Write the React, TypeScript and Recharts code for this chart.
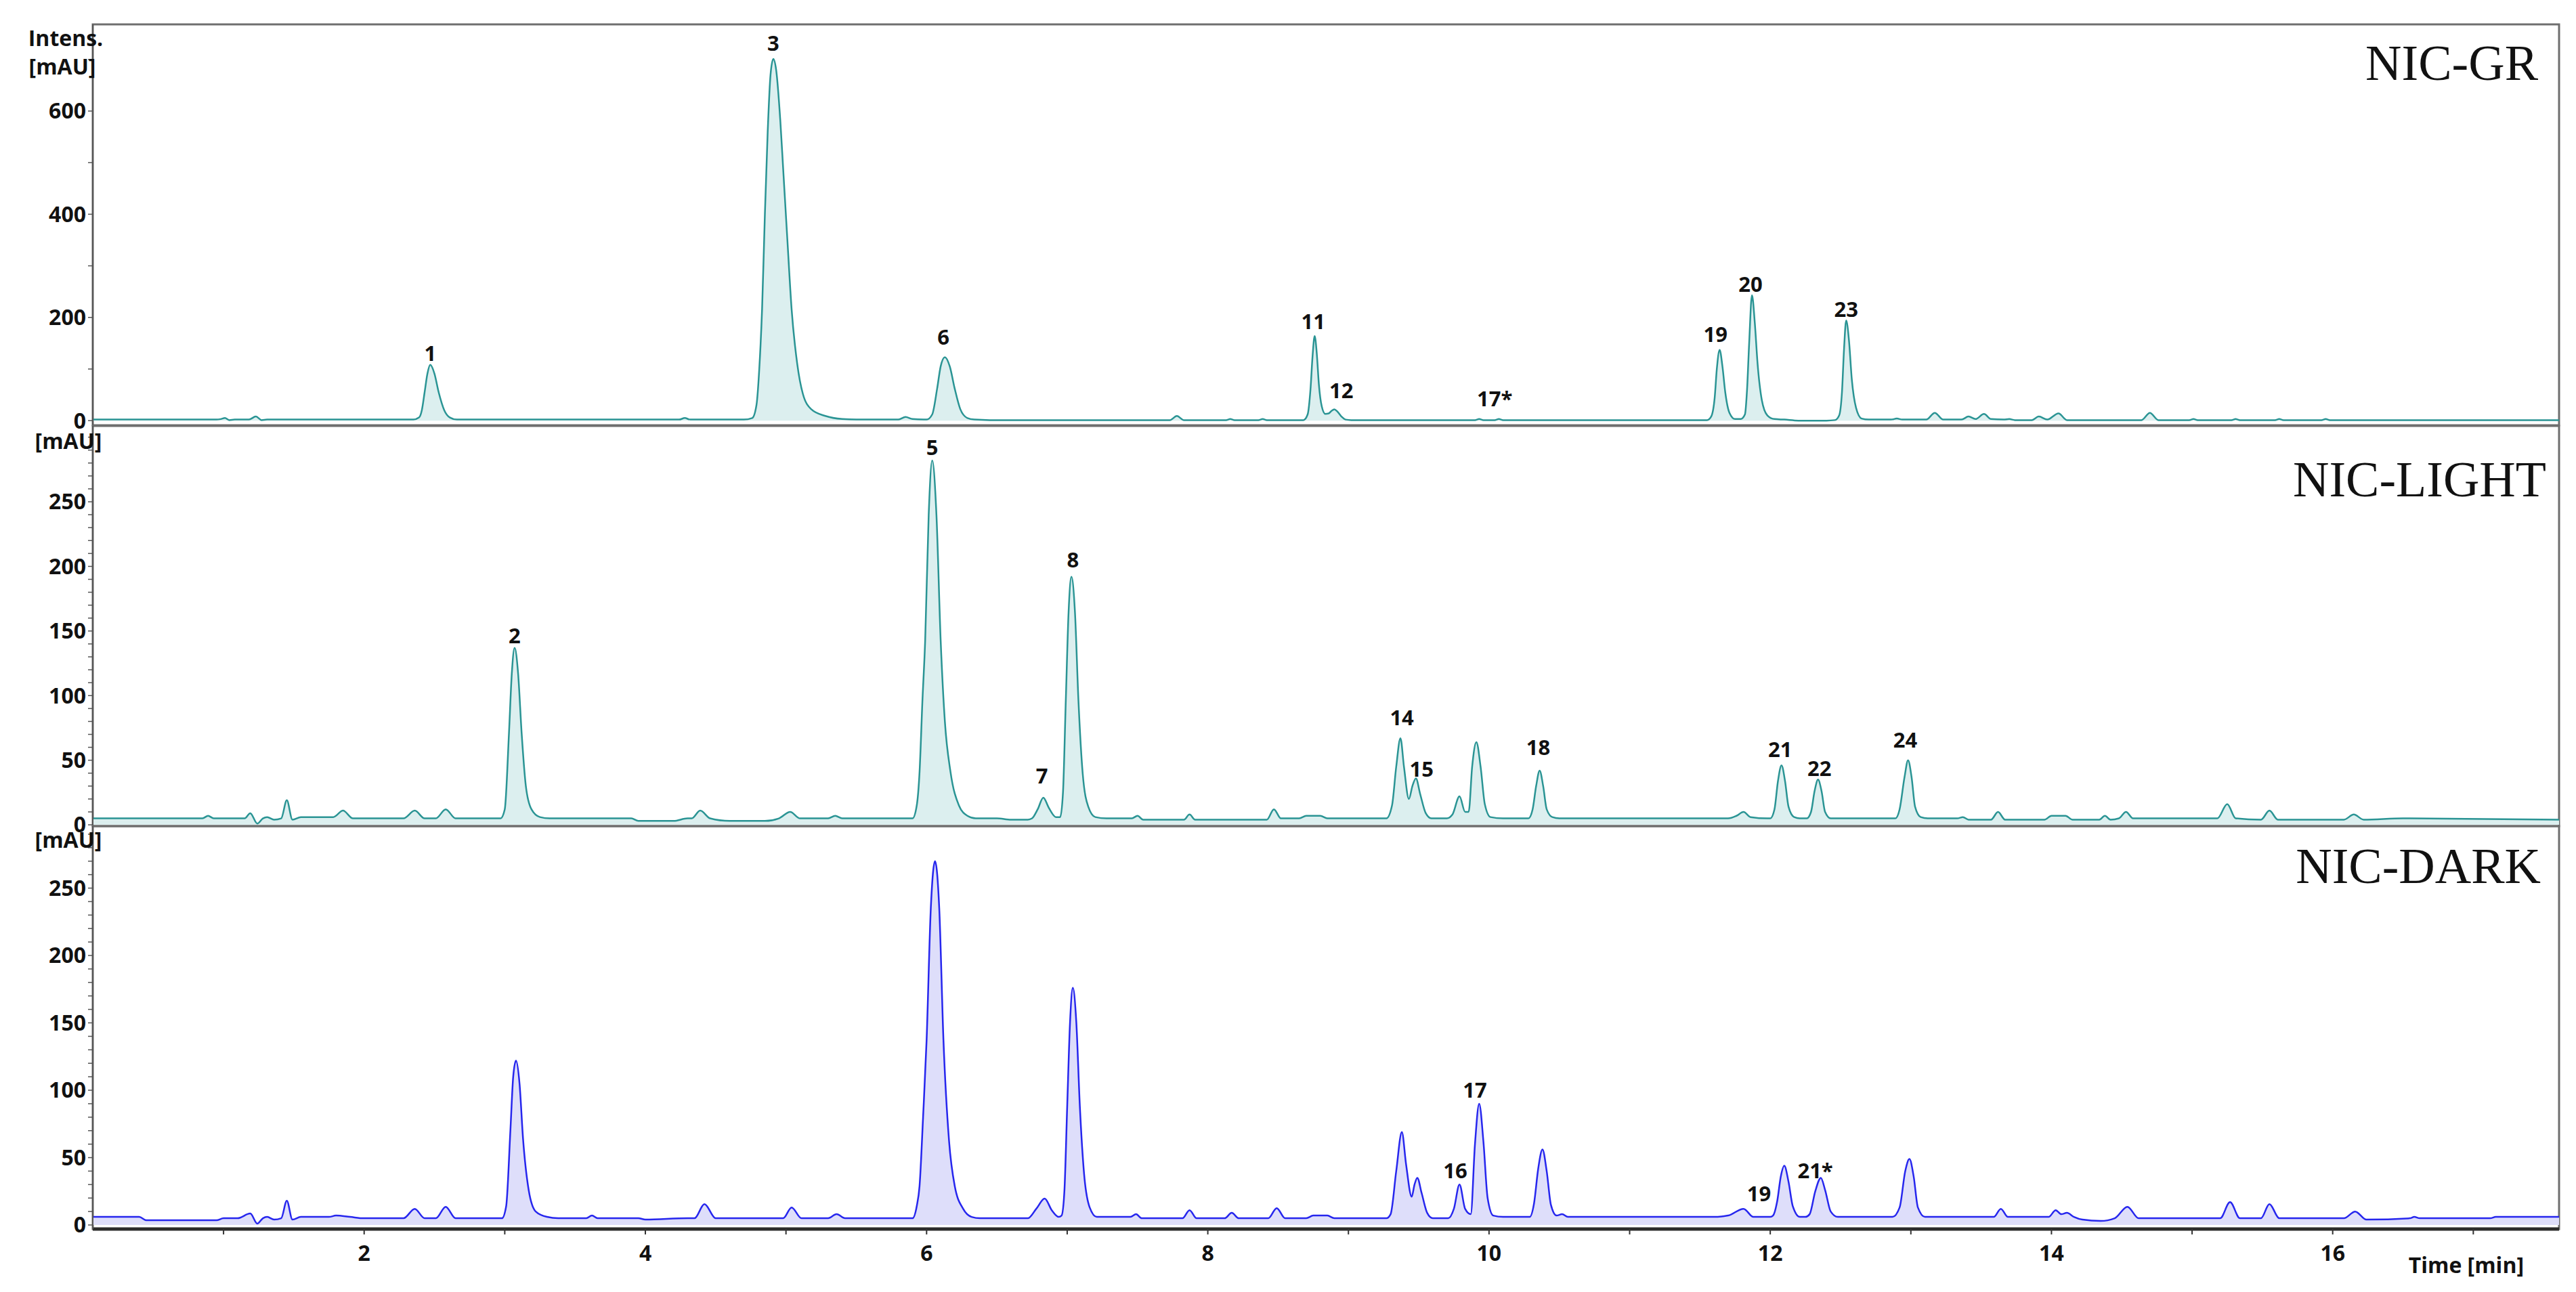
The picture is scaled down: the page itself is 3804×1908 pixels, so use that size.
import React from 'react';
import { ComposedChart, Area, XAxis, YAxis, ReferenceArea, ReferenceDot } from 'recharts';

const W = 3804;
const H = 1908;
const FONT = "'Open Sans', 'DejaVu Sans', sans-serif";
const SERIF = "'Liberation Serif', 'DejaVu Serif', serif";

const timeDomain: [number, number] = [0.07, 17.61];
const xTicks = [1, 2, 3, 4, 5, 6, 7, 8, 9, 10, 11, 12, 13, 14, 15, 16, 17];
const xLabelTicks = [2, 4, 6, 8, 10, 12, 14, 16];

// NIC-GR chromatogram [time min, intensity mAU]
const grPoints: [number, number][] = [
  [0.07, 2], [0.95, 2], [0.98, 3], [1.01, 5], [1.04, 1], [1.08, 2], [1.18, 2], [1.23, 8], [1.27, 1], [1.31, 2],
  [2.35, 2], [2.39, 6], [2.41, 20], [2.43, 55], [2.45, 91], [2.47, 108], [2.5, 91], [2.53, 55], [2.57, 20], [2.61, 6], [2.66, 2],
  [4.24, 2], [4.28, 5], [4.32, 2],
  [4.7, 2], [4.76, 5], [4.79, 30], [4.81, 100], [4.83, 216], [4.85, 400], [4.87, 560], [4.89, 670], [4.91, 701], [4.93, 680], [4.96, 580], [4.98, 488], [5.01, 350], [5.04, 216], [5.08, 110], [5.12, 52], [5.18, 22], [5.28, 9], [5.4, 3], [5.5, 2],
  [5.8, 2], [5.85, 7], [5.9, 3], [5.98, 2],
  [6.0, 2], [6.04, 12], [6.075, 62], [6.1, 105], [6.13, 123], [6.165, 105], [6.2, 62], [6.24, 22], [6.29, 5], [6.34, 2],
  [6.45, 1], [7.73, 1], [7.78, 9], [7.83, 1], [8.13, 1], [8.16, 3], [8.19, 1], [8.36, 1], [8.39, 3], [8.42, 1],
  [8.68, 1], [8.71, 12], [8.73, 60], [8.745, 125], [8.76, 164], [8.775, 130], [8.79, 70], [8.81, 28], [8.835, 13], [8.86, 14], [8.88, 19], [8.9, 22], [8.92, 18], [8.95, 8], [8.98, 2], [9.02, 1],
  [9.9, 1], [9.93, 3], [9.96, 1], [10.04, 1], [10.07, 3], [10.1, 1],
  [11.55, 1], [11.58, 8], [11.605, 45], [11.62, 100], [11.64, 137], [11.66, 105], [11.68, 55], [11.71, 15], [11.75, 3],
  [11.79, 3], [11.82, 12], [11.835, 60], [11.85, 150], [11.87, 243], [11.89, 190], [11.91, 110], [11.94, 40], [11.98, 10], [12.03, 3], [12.1, 2], [12.2, 0], [12.4, 0],
  [12.46, 1], [12.49, 10], [12.51, 55], [12.525, 140], [12.54, 194], [12.56, 155], [12.58, 80], [12.61, 25], [12.65, 4], [12.7, 2],
  [12.86, 2], [12.9, 4], [12.94, 2], [13.11, 2], [13.17, 15], [13.23, 2], [13.36, 2], [13.41, 8], [13.46, 3], [13.52, 13], [13.57, 3],
  [13.66, 2], [13.7, 3], [13.74, 1], [13.86, 1], [13.91, 8], [13.97, 2], [14.05, 14], [14.11, 1], [14.3, 1], [14.64, 1], [14.7, 15], [14.76, 1],
  [14.98, 1], [15.01, 3], [15.04, 1], [15.28, 1], [15.31, 3], [15.34, 1], [15.59, 1], [15.62, 3], [15.65, 1], [15.92, 1], [15.95, 3], [15.98, 1], [16.2, 1], [17.61, 1],
];

// NIC-LIGHT chromatogram
const lightPoints: [number, number][] = [
  [0.07, 5], [0.85, 5], [0.89, 7], [0.93, 5], [1.15, 5], [1.19, 9], [1.24, 1], [1.28, 5], [1.31, 6], [1.36, 4], [1.41, 5], [1.45, 19], [1.49, 4], [1.55, 6],
  [1.78, 6], [1.85, 11], [1.92, 5], [2.28, 5], [2.36, 11], [2.43, 5], [2.51, 5], [2.58, 12], [2.65, 5], [2.95, 5],
  [2.97, 5], [3.0, 12], [3.03, 71], [3.05, 117], [3.07, 137], [3.095, 117], [3.12, 71], [3.15, 30], [3.19, 12], [3.25, 6], [3.32, 5],
  [3.9, 5], [3.95, 3], [4.2, 3], [4.3, 5], [4.33, 5], [4.39, 11], [4.46, 5], [4.6, 3], [4.85, 3], [4.95, 5], [5.03, 10], [5.1, 5], [5.3, 5], [5.35, 7], [5.4, 5], [5.88, 5],
  [5.9, 5], [5.93, 15], [5.95, 41], [5.97, 95], [5.99, 143], [6.015, 240], [6.04, 282], [6.07, 240], [6.1, 143], [6.13, 80], [6.17, 41], [6.23, 15], [6.29, 7], [6.35, 5],
  [6.5, 5], [6.6, 4], [6.72, 4], [6.75, 5], [6.79, 12], [6.83, 21], [6.87, 13], [6.92, 6],
  [6.95, 6], [6.97, 25], [6.99, 96], [7.01, 165], [7.03, 192], [7.055, 165], [7.08, 96], [7.11, 40], [7.15, 14], [7.2, 6], [7.28, 5],
  [7.46, 5], [7.5, 7], [7.54, 4], [7.83, 4], [7.87, 8], [7.91, 4], [8.42, 4], [8.47, 12], [8.52, 5], [8.65, 5], [8.7, 7], [8.8, 7], [8.85, 5], [9.27, 5],
  [9.31, 15], [9.34, 45], [9.37, 67], [9.395, 45], [9.43, 20], [9.455, 30], [9.48, 36], [9.51, 24], [9.55, 9], [9.59, 5],
  [9.7, 5], [9.74, 8], [9.79, 22], [9.83, 10], [9.855, 10], [9.88, 45], [9.91, 64], [9.94, 45], [9.97, 16], [10.01, 6], [10.1, 5],
  [10.28, 5], [10.31, 12], [10.335, 30], [10.36, 42], [10.385, 30], [10.41, 12], [10.45, 6], [10.5, 5],
  [11.0, 5], [11.7, 5], [11.76, 7], [11.81, 10], [11.86, 6], [11.98, 5],
  [12.0, 5], [12.03, 12], [12.055, 34], [12.08, 46], [12.105, 34], [12.13, 14], [12.17, 6], [12.21, 5],
  [12.26, 5], [12.29, 10], [12.315, 26], [12.34, 35], [12.365, 26], [12.39, 10], [12.43, 5],
  [12.89, 5], [12.92, 12], [12.955, 37], [12.98, 50], [13.005, 37], [13.03, 14], [13.07, 6], [13.12, 5],
  [13.33, 5], [13.37, 6], [13.41, 4], [13.57, 4], [13.62, 10], [13.67, 4], [13.95, 4], [14.0, 7], [14.1, 7], [14.15, 4], [14.34, 4], [14.38, 7], [14.42, 4],
  [14.48, 5], [14.53, 10], [14.58, 5], [15.18, 5], [15.25, 16], [15.31, 5], [15.49, 4], [15.55, 11], [15.61, 4], [15.75, 4],
  [16.08, 4], [16.15, 8], [16.22, 4], [16.5, 5], [16.55, 5], [17.61, 4],
];

// NIC-DARK chromatogram
const darkPoints: [number, number][] = [
  [0.07, 6], [0.4, 6], [0.45, 3.5], [0.95, 3.5], [1.0, 5], [1.1, 5], [1.19, 8.5], [1.24, 1], [1.28, 5], [1.31, 6], [1.36, 4], [1.41, 5], [1.45, 18], [1.49, 4], [1.55, 6],
  [1.75, 6], [1.8, 7], [1.9, 6], [2.0, 5], [2.28, 5], [2.36, 12], [2.43, 5], [2.51, 5], [2.58, 13.5], [2.65, 5], [2.96, 5],
  [2.98, 5], [3.01, 14], [3.04, 70], [3.06, 110], [3.08, 122], [3.105, 105], [3.13, 64], [3.17, 26], [3.22, 10], [3.3, 6], [3.38, 5],
  [3.58, 5], [3.62, 7], [3.66, 5], [3.95, 5], [4.0, 4], [4.3, 5], [4.35, 5], [4.42, 15.5], [4.5, 5], [4.98, 5], [5.04, 13], [5.11, 5], [5.3, 5], [5.36, 8], [5.42, 5], [5.88, 5],
  [5.9, 5], [5.93, 14], [5.95, 29], [5.975, 80], [6.0, 137], [6.03, 235], [6.06, 270], [6.09, 235], [6.12, 137], [6.16, 62], [6.2, 29], [6.26, 12], [6.32, 6], [6.38, 5],
  [6.72, 5], [6.78, 12], [6.84, 19.6], [6.89, 11], [6.94, 6],
  [6.96, 7], [6.98, 25], [7.0, 88], [7.02, 150], [7.04, 176], [7.065, 150], [7.09, 88], [7.12, 38], [7.16, 13], [7.21, 6], [7.3, 6],
  [7.45, 6], [7.49, 8], [7.53, 5], [7.82, 5], [7.87, 11], [7.92, 5], [8.12, 5], [8.17, 9], [8.22, 5], [8.43, 5], [8.49, 12.5], [8.55, 5], [8.7, 5], [8.75, 7], [8.85, 7], [8.9, 5], [9.27, 5],
  [9.3, 8], [9.34, 40], [9.38, 69], [9.41, 45], [9.45, 21], [9.47, 30], [9.49, 35], [9.52, 24], [9.56, 9], [9.6, 5],
  [9.71, 5], [9.75, 12], [9.79, 30], [9.83, 12], [9.87, 8], [9.9, 60], [9.93, 90], [9.96, 62], [9.99, 20], [10.03, 7], [10.1, 6],
  [10.29, 6], [10.32, 16], [10.35, 42], [10.38, 56], [10.41, 40], [10.44, 15], [10.48, 7], [10.52, 8], [10.56, 6],
  [11.0, 6], [11.6, 6], [11.7, 7], [11.81, 12], [11.88, 6], [12.0, 6],
  [12.02, 7], [12.05, 18], [12.075, 36], [12.1, 44], [12.13, 32], [12.16, 14], [12.21, 6], [12.25, 6],
  [12.28, 8], [12.32, 25], [12.36, 35], [12.39, 26], [12.43, 10], [12.48, 6],
  [12.87, 6], [12.92, 13], [12.96, 40], [12.99, 49], [13.02, 36], [13.05, 13], [13.1, 6],
  [13.59, 6], [13.64, 12], [13.69, 6], [13.98, 6], [14.03, 11], [14.07, 8], [14.11, 9], [14.16, 6], [14.22, 4], [14.35, 3], [14.45, 5], [14.54, 13.5], [14.62, 5],
  [14.8, 5], [15.2, 5], [15.27, 17], [15.34, 5], [15.49, 5], [15.55, 15.5], [15.62, 5], [16.0, 5], [16.08, 5], [16.16, 10], [16.24, 4],
  [16.55, 5], [16.58, 6], [16.62, 5], [17.12, 5], [17.16, 6], [17.2, 6], [17.61, 6],
];

// peak labels [time, intensity at label centre, text]
const grLabels: [number, number, string][] = [
  [2.47, 130, '1'], [4.91, 731, '3'], [6.12, 161, '6'], [8.75, 192, '11'], [8.95, 58, '12'],
  [10.04, 42, '17*'], [11.61, 167, '19'], [11.86, 264, '20'], [12.54, 216, '23'],
];
const lightLabels: [number, number, string][] = [
  [3.07, 146, '2'], [6.04, 292, '5'], [6.82, 38, '7'], [7.04, 205, '8'], [9.38, 83, '14'],
  [9.52, 43, '15'], [10.35, 60, '18'], [12.07, 58, '21'], [12.35, 43.5, '22'], [12.96, 65.5, '24'],
];
const darkLabels: [number, number, string][] = [
  [9.76, 40, '16'], [9.9, 100, '17'], [11.92, 23, '19'], [12.32, 40, '21*'],
];

const grYTicks = [0, 100, 200, 300, 400, 500, 600, 700];
const grYLabels = [0, 200, 400, 600];
const lightYTicks = [0, 10, 20, 30, 40, 50, 60, 70, 80, 90, 100, 110, 120, 130, 140, 150, 160, 170, 180, 190, 200, 210, 220, 230, 240, 250, 260, 270, 280, 290, 300];
const darkYTicks = [0, 10, 20, 30, 40, 50, 60, 70, 80, 90, 100, 110, 120, 130, 140, 150, 160, 170, 180, 190, 200, 210, 220, 230, 240, 250, 260, 270, 280, 290];
const mauYLabels = [0, 50, 100, 150, 200, 250];

const XTick = (props: any) => {
  const { x, y, payload } = props;
  if (!xLabelTicks.includes(payload.value)) return <g />;
  return (
    <text x={x} y={y} dy="0.71em" textAnchor="middle" fontFamily={FONT} fontWeight={700} fontSize={32} fill="#111">
      {payload.value}
    </text>
  );
};

const makeYTick = (labels: number[]) => (props: any) => {
  const { x, y, payload } = props;
  if (!labels.includes(payload.value)) return <g />;
  return (
    <text x={x} y={y} dy="0.355em" textAnchor="end" fontFamily={FONT} fontWeight={700} fontSize={32} fill="#111">
      {payload.value}
    </text>
  );
};

type PanelProps = {
  points: [number, number][];
  labels: [number, number, string][];
  yDomain: [number, number];
  yTicks: number[];
  yLabels: number[];
  stroke: string;
  fill: string;
  top: number;
  height: number;
  margin: { top: number; right: number; bottom: number; left: number };
  showX: boolean;
};

function Panel(p: PanelProps) {
  const data = p.points.map(([t, v]) => ({ t, v }));
  return (
    <div style={{ position: 'absolute', left: 0, top: p.top, width: W, height: p.height }}>
      <ComposedChart width={W} height={p.height} data={data} margin={p.margin}>
        <ReferenceArea
          x1={timeDomain[0]}
          x2={timeDomain[1]}
          y1={p.yDomain[0]}
          y2={p.yDomain[1]}
          fill="none"
          stroke="#6e6e6e"
          strokeWidth={3}
          ifOverflow="visible"
        />
        <XAxis
          dataKey="t"
          type="number"
          domain={timeDomain}
          allowDataOverflow
          ticks={p.showX ? xTicks : []}
          interval={0}
          tick={p.showX ? XTick : false}
          tickLine={p.showX ? { stroke: '#333', strokeWidth: 2 } : false}
          tickSize={8}
          tickMargin={16}
          height={p.showX ? 70 : 0}
          axisLine={{ stroke: '#2b2b2b', strokeWidth: 5 }}
        />
        <YAxis
          type="number"
          domain={p.yDomain}
          allowDataOverflow
          ticks={p.yTicks}
          interval={0}
          tick={makeYTick(p.yLabels)}
          tickSize={7}
          tickMargin={3}
          width={137}
          axisLine={{ stroke: '#555', strokeWidth: 2 }}
          tickLine={{ stroke: '#555', strokeWidth: 1.5 }}
        />
        <Area
          dataKey="v"
          type="monotone"
          stroke={p.stroke}
          strokeWidth={2.5}
          fill={p.fill}
          fillOpacity={1}
          baseValue={0}
          dot={false}
          activeDot={false}
          isAnimationActive={false}
        />
        {p.labels.map(([t, v, text]) => (
          <ReferenceDot
            key={text + t}
            x={t}
            y={v}
            r={0}
            fill="none"
            stroke="none"
            ifOverflow="visible"
            label={{ value: text, position: 'center', fontFamily: FONT, fontWeight: 700, fontSize: 31, fill: '#111' }}
          />
        ))}
      </ComposedChart>
    </div>
  );
}

export default function App() {
  return (
    <div style={{ position: 'absolute', left: 0, top: 0, width: W, height: H, background: '#fff', overflow: 'hidden' }}>
      <Panel
        points={grPoints}
        labels={grLabels}
        yDomain={[-9, 768]}
        yTicks={grYTicks}
        yLabels={grYLabels}
        stroke="#2a9494"
        fill="#dcefef"
        top={0}
        height={640}
        margin={{ top: 36, right: 25, bottom: 12, left: 0 }}
        showX={false}
      />
      <Panel
        points={lightPoints}
        labels={lightLabels}
        yDomain={[-1, 308.7]}
        yTicks={lightYTicks}
        yLabels={mauYLabels}
        stroke="#2a9494"
        fill="#dcefef"
        top={600}
        height={640}
        margin={{ top: 29, right: 25, bottom: 20, left: 0 }}
        showX={false}
      />
      <Panel
        points={darkPoints}
        labels={darkLabels}
        yDomain={[-3, 296]}
        yTicks={darkYTicks}
        yLabels={mauYLabels}
        stroke="#2626ee"
        fill="#dedefa"
        top={1200}
        height={708}
        margin={{ top: 20, right: 25, bottom: 23, left: 0 }}
        showX={true}
      />
      <svg width={W} height={H} style={{ position: 'absolute', left: 0, top: 0, pointerEvents: 'none' }}>
        <g fontFamily={FONT} fontWeight={700} fontSize={32} fill="#111">
          <text x={97} y={68} textAnchor="middle">Intens.</text>
          <text x={92} y={110} textAnchor="middle">[mAU]</text>
          <text x={101} y={663} textAnchor="middle">[mAU]</text>
          <text x={101} y={1252} textAnchor="middle">[mAU]</text>
          <text x={3727} y={1880} textAnchor="end">Time [min]</text>
        </g>
        <g fontFamily={SERIF} fontSize={74} fill="#111">
          <text x={3748} y={118} textAnchor="end">NIC-GR</text>
          <text x={3760} y={733} textAnchor="end">NIC-LIGHT</text>
          <text x={3752} y={1304} textAnchor="end">NIC-DARK</text>
        </g>
      </svg>
    </div>
  );
}
